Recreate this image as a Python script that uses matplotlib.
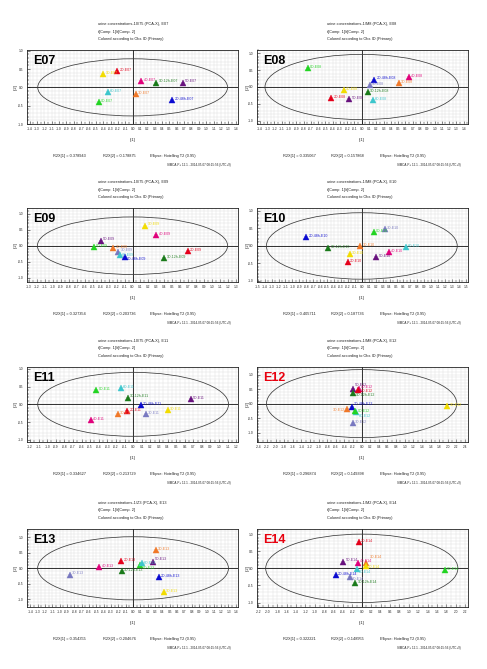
import numpy as np
import matplotlib
matplotlib.use('Agg')
import matplotlib.pyplot as plt
from matplotlib.patches import Ellipse
from matplotlib.ticker import FixedLocator, FormatStrFormatter
from matplotlib import font_manager

# ---------------- data ----------------
CLASS_COLORS = {
    '0D': '#22d422', '1D': '#f2dc00', '2D': '#e4001a', '3D': '#f07828',
    '4D': '#e0007a', '5D': '#68127e', '6D': '#3cc6cc', '7D': '#7878c0',
    '1D-12h': '#1a7a1a', '2D-48h': '#0a0ad0',
}

E07_obs = ['1D', '2D', '4D', '1D-12h', '5D', '6D', '3D', '0D', '2D-48h']
E07_x = [-0.40, -0.21, 0.12, 0.32, 0.68, -0.34, 0.04, -0.46, 0.54]
E07_y = [0.36, 0.45, 0.18, 0.13, 0.13, -0.12, -0.18, -0.41, -0.35]

E08_obs = ['0D', '2D-48h', '7D', '4D', '3D', '1D', '2D', '5D', '1D-12h', '6D']
E08_x = [-0.74, 0.17, 0.11, 0.65, 0.51, -0.25, -0.42, -0.17, 0.08, 0.15]
E08_y = [0.57, 0.22, 0.07, 0.29, 0.11, -0.10, -0.33, -0.36, -0.16, -0.40]

E09_obs = ['1D', '4D', '5D', '0D', '3D', '7D', '6D', '2D-48h', '2D', '1D-12h']
E09_x = [0.16, 0.30, -0.40, -0.48, -0.24, -0.18, -0.155, -0.10, 0.69, 0.40]
E09_y = [0.63, 0.34, 0.16, -0.03, -0.08, -0.21, -0.28, -0.35, -0.18, -0.39]

E10_obs = ['2D-48h', '0D', '7D', '1D-12h', '3D', '6D', '4D', '5D', '1D', '2D']
E10_x = [-0.80, 0.17, 0.33, -0.48, -0.02, 0.63, 0.39, 0.21, -0.17, -0.20]
E10_y = [0.26, 0.39, 0.49, -0.06, -0.01, -0.04, -0.18, -0.31, -0.23, -0.45]

E11_obs = ['0D', '6D', '1D-12h', '2D-48h', '5D', '1D', '7D', '2D', '3D', '4D']
E11_x = [-0.43, -0.14, -0.06, 0.09, 0.67, 0.40, 0.15, -0.07, -0.18, -0.49]
E11_y = [0.40, 0.47, 0.19, -0.02, 0.14, -0.17, -0.28, -0.19, -0.28, -0.44]

E12_obs = ['5D', '4D', '2D', '1D-12h', '3D', '2D-48h', '6D', '0D', '7D', '1D']
E12_x = [-0.20, -0.06, -0.08, -0.19, -0.33, -0.23, -0.12, -0.15, -0.20, 1.99]
E12_y = [0.49, 0.52, 0.47, 0.35, -0.20, -0.10, -0.29, -0.25, -0.68, -0.08]

E13_obs = ['3D', '2D', '4D', '0D', '6D', '5D', '1D-12h', '2D-48h', '1D', '7D']
E13_x = [0.31, -0.16, -0.46, 0.10, 0.12, 0.27, -0.15, 0.35, 0.42, -0.86]
E13_y = [0.58, 0.24, 0.03, 0.11, 0.16, 0.21, -0.08, -0.27, -0.78, -0.20]

E14_obs = ['2D', '5D', '4D', '3D', '1D', '6D', '2D-48h', '7D', '1D-12h', '0D']
E14_x = [-0.06, -0.39, -0.08, 0.10, 0.08, -0.11, -0.55, -0.26, -0.14, 1.77]
E14_y = [0.78, 0.20, 0.17, 0.15, 0.07, -0.03, -0.20, -0.25, -0.44, -0.05]

PANEL_NAMES = ['E07', 'E08', 'E09', 'E10', 'E11', 'E12', 'E13', 'E14']
R2X_1 = [0.378943, 0.335067, 0.327354, 0.405711, 0.334627, 0.296874, 0.354355, 0.322221]
R2X_2 = [0.178875, 0.157868, 0.203736, 0.187736, 0.213729, 0.149398, 0.204676, 0.148955]
TITLE_CODES = ['10/75', '1/M8', '10/75', '1/M8', '10/75', '1/M8', '1/Z3', '1/M2']

# label placement tweaks for crowded clusters (style only): (dx, dy) in points
LABEL_SHIFT = {
    ('E12', '5D'): (1.6, 3.2), ('E12', '2D'): (1.6, -0.8), ('E12', '1D-12h'): (1.6, -1.0),
    ('E12', '3D'): (-1.6, -0.6), ('E12', '2D-48h'): (1.6, 1.6), ('E12', '0D'): (1.6, -0.2),
    ('E12', '6D'): (1.6, -3.0),
    ('E13', '0D'): (1.6, -2.2), ('E13', '6D'): (1.6, 0.6), ('E13', '5D'): (1.6, 2.0),
    ('E14', '4D'): (1.6, 1.4), ('E14', '3D'): (2.4, 4.6), ('E14', '1D'): (1.6, -0.4),
    ('E14', '6D'): (1.6, -1.6), ('E14', '7D'): (1.6, -1.8),
    ('E09', '7D'): (1.6, 1.6), ('E09', '6D'): (1.6, -0.4), ('E09', '2D-48h'): (1.6, -1.6),
}

# ---------------- layout ----------------
W, H = 487, 669
fig = plt.figure(figsize=(W / 100, H / 100), dpi=100)
fig.patch.set_facecolor('white')

def pick_font(cands):
    for c in cands:
        try:
            font_manager.findfont(c, fallback_to_default=False)
            return c
        except Exception:
            pass
    return 'DejaVu Sans'

SMALL = pick_font(['Liberation Sans Narrow', 'Liberation Sans', 'Arial'])
BIG = pick_font(['Liberation Sans', 'Arial'])

COL_X = [(27, 238), (257, 468)]
ROW_Y = [(50, 124), (208, 282), (367, 442), (529, 607)]

panel_data = [
    (E07_obs, E07_x, E07_y), (E08_obs, E08_x, E08_y),
    (E09_obs, E09_x, E09_y), (E10_obs, E10_x, E10_y),
    (E11_obs, E11_x, E11_y), (E12_obs, E12_x, E12_y),
    (E13_obs, E13_x, E13_y), (E14_obs, E14_x, E14_y),
]
panel_style = [
    dict(xlim=(-1.436, 1.432), ylim=(-1.0, 1.02), ell=(1.29, 0.78), xs=0.1, xr=1.4),
    dict(xlim=(-1.44, 1.46), ylim=(-1.1, 1.1), ell=(1.33, 0.97), xs=0.1, xr=1.4),
    dict(xlim=(-1.32, 1.32), ylim=(-1.135, 1.18), ell=(1.19, 0.9), xs=0.1, xr=1.3),
    dict(xlim=(-1.51, 1.53), ylim=(-1.03, 1.085), ell=(1.375, 0.95), xs=0.1, xr=1.5),
    dict(xlim=(-1.235, 1.22), ylim=(-1.06, 1.05), ell=(1.11, 0.9), xs=0.1, xr=1.2),
    dict(xlim=(-2.43, 2.47), ylim=(-1.32, 1.26), ell=(2.21, 1.17), xs=0.2, xr=2.4),
    dict(xlim=(-1.445, 1.43), ylim=(-1.25, 1.27), ell=(1.30, 1.02), xs=0.1, xr=1.4),
    dict(xlim=(-2.23, 2.26), ylim=(-1.13, 1.15), ell=(2.045, 1.0), xs=0.2, xr=2.2),
]
NAME_COLORS = ['black'] * 5 + ['#e8000e', 'black', '#e8000e']

def ftext(x, y, s, **kw):
    kw.setdefault('family', SMALL)
    kw.setdefault('fontsize', 2.8)
    kw.setdefault('color', '#222222')
    fig.text(x / W, 1 - y / H, s, **kw)

for i, name in enumerate(PANEL_NAMES):
    r, c = divmod(i, 2)
    x0, x1 = COL_X[c]
    y0, y1 = ROW_Y[r]
    ax = fig.add_axes([x0 / W, 1 - y1 / H, (x1 - x0) / W, (y1 - y0) / H])
    st = panel_style[i]
    obs, xs, ys = panel_data[i]

    ax.set_xlim(st['xlim'])
    ax.set_ylim(st['ylim'])
    step = st['xs']
    n = int(round(st['xr'] / step))
    major = np.round(np.arange(-n, n + 1) * step, 2)
    minor = np.round(np.arange(-2 * n - 1, 2 * n + 2) * step / 2, 3)
    ax.xaxis.set_major_locator(FixedLocator(major))
    ax.xaxis.set_minor_locator(FixedLocator(minor))
    yt = [v for v in [-1.0, -0.5, 0.0, 0.5, 1.0] if st['ylim'][0] <= v <= st['ylim'][1]]
    ax.yaxis.set_major_locator(FixedLocator(yt))
    ax.yaxis.set_minor_locator(FixedLocator(np.round(np.arange(-13, 14) * 0.1, 2)))
    ax.xaxis.set_major_formatter(FormatStrFormatter('%.1f'))
    ax.yaxis.set_major_formatter(FormatStrFormatter('%.1f'))
    ax.grid(which='both', color='#dddddd', lw=0.3)
    ax.set_axisbelow(True)
    ax.tick_params(which='major', direction='in', length=2.2, width=0.4,
                   labelsize=2.3, pad=2.5, colors='#222222')
    ax.tick_params(which='minor', direction='in', length=1.4, width=0.3)
    for lbl in ax.get_xticklabels() + ax.get_yticklabels():
        lbl.set_family(SMALL)
    for sp in ax.spines.values():
        sp.set_linewidth(0.6)
        sp.set_color('#222222')

    ax.axhline(0, color='#111111', lw=0.6, zorder=2)
    ax.axvline(0, color='#111111', lw=0.6, zorder=2)
    a, b = st['ell']
    ax.add_patch(Ellipse((0, 0), 2 * a, 2 * b, fill=False, ec='#3a3a3a', lw=0.55, zorder=2))

    for o, x, y in zip(obs, xs, ys):
        col = CLASS_COLORS[o]
        ax.plot(x, y, marker='^', ms=3.8, color=col, mec=col, mew=0.3, zorder=4)
        dx, dy = LABEL_SHIFT.get((name, o), (1.6, 0.8))
        ax.annotate(f'{o}-{name}', (x, y), xytext=(dx, dy), textcoords='offset points',
                    fontsize=2.6, color=col, family=SMALL, va='center',
                    ha='left' if dx >= 0 else 'right', alpha=0.9, zorder=5)

    ax.text(0.028, 0.93, name, transform=ax.transAxes, fontsize=9, fontweight='bold',
            color=NAME_COLORS[i], family=BIG, va='top', ha='left', zorder=6)

    # titles
    tx = [98, 327][c]
    ftext(tx, y0 - 26, f'urine concentrations-{TITLE_CODES[i]} (PCA-X), {name}', va='center')
    ftext(tx, y0 - 18.5, 't[Comp. 1]/t[Comp. 2]', va='center')
    ftext(tx, y0 - 11, 'Colored according to Obs ID (Primary)', va='center')
    # axis labels
    ftext([133, 362][c], y1 + 16, 't[1]', ha='center', va='center', fontsize=3)
    ftext([16, 248][c], (y0 + y1) / 2, 't[2]', ha='center', va='center', rotation=90, fontsize=3)
    # footer
    ftext([53, 283][c], y1 + 32, f'R2X[1] = {R2X_1[i]:.6f}', va='center')
    ftext([103, 331][c], y1 + 32, f'R2X[2] = {R2X_2[i]:.6f}', va='center')
    ftext([150, 380][c], y1 + 32, 'Ellipse: Hotelling T2 (0.95)', va='center')
    ftext([167, 397][c], y1 + 41, 'SIMCA-P+ 12.1 - 2014-05-07 08:15:56 (UTC+9)', va='center',
          fontsize=2.2)

fig.savefig('out.png', dpi=100, facecolor='white')
